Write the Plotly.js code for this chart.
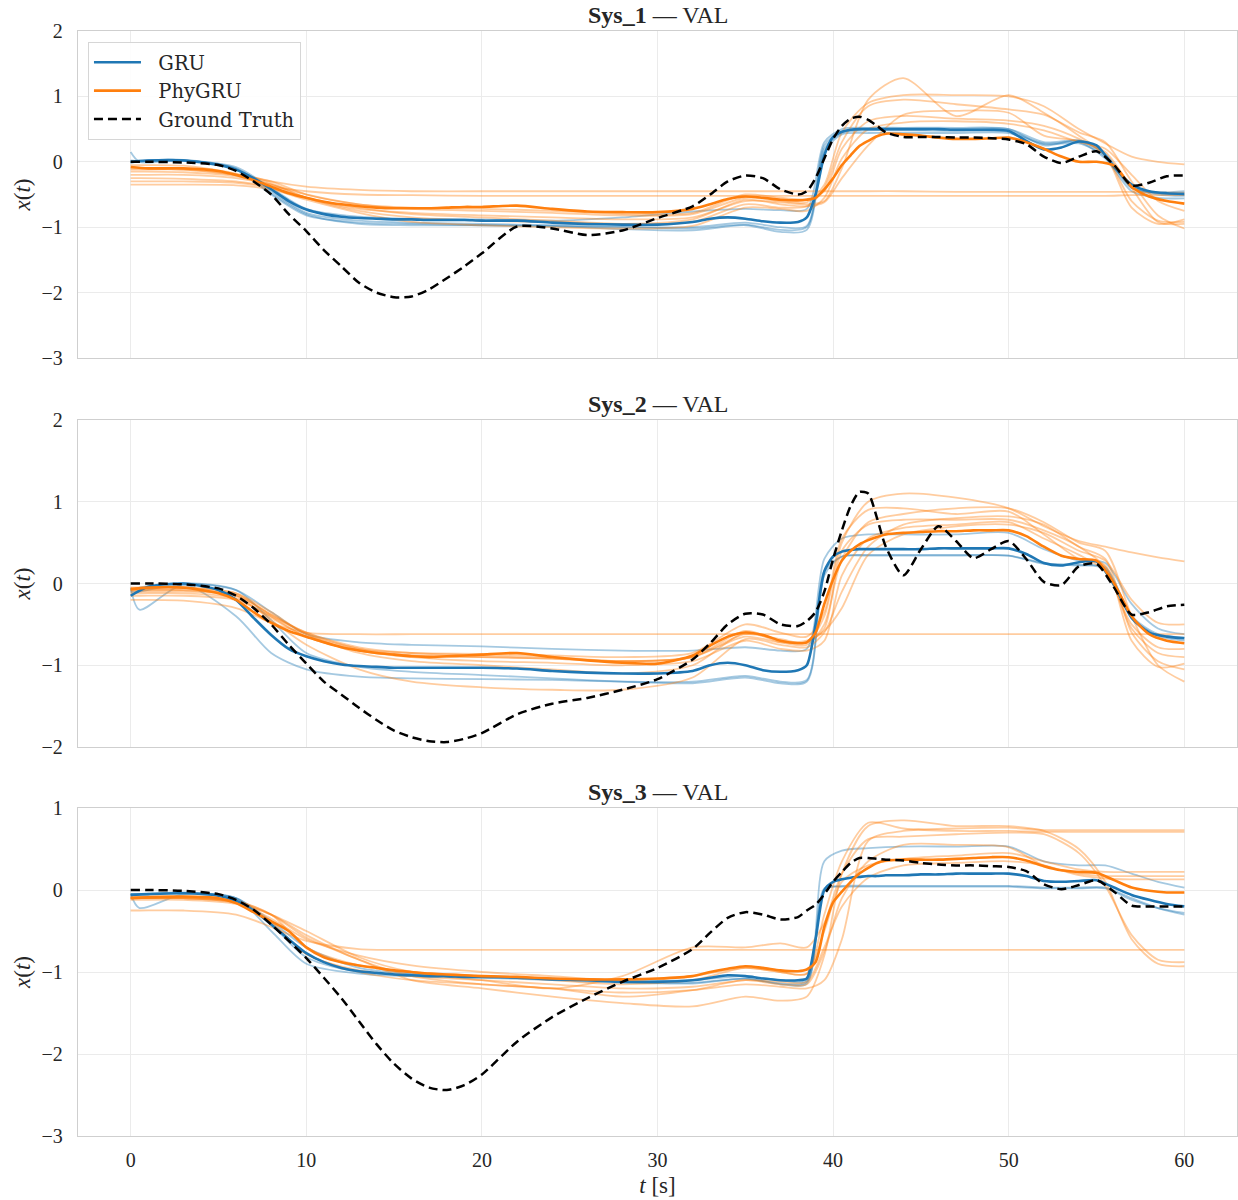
<!DOCTYPE html>
<html>
<head>
<meta charset="utf-8">
<script src="https://cdn.plot.ly/plotly-3.0.1.min.js"></script>
<style>html,body{margin:0;padding:0;background:#fff;}#chart{width:1238px;height:1200px;}</style>
</head>
<body>
<div id="chart"></div>
<script>
// ---------- time grids ----------
const T_FINE = [0,1,3,5,6,7,8,9,10,11,12,13,14,15,16,17,18,19,20,22,24,26,28,30,32,33,34,35,36,37,38,38.5,39,39.5,40,40.5,41,41.5,42,42.5,43,44,45,46,47,48,49,50,51,52,53,54,55,56,57,58,59,60];
const T_RUN = [0,0.5,3,6,8,10,13,16,20,24,28,32,35,37,38.5,39.5,40.5,42,44,47,50,52,54,55.5,57,58.5,60];

// ---------- Sys_1 ----------
const sys1_gt = [0,0,-0.01,-0.05,-0.14,-0.3,-0.5,-0.8,-1.06,-1.35,-1.6,-1.85,-2.0,-2.07,-2.06,-1.95,-1.78,-1.6,-1.4,
  -0.99,-1.02,-1.12,-1.05,-0.86,-0.68,
  -0.5,-0.3,-0.21,-0.25,-0.42,-0.5,
  -0.45,-0.25,0.05,0.35,0.55,0.66,0.69,0.64,0.55,0.45,
  0.38,0.38,0.38,0.37,0.37,0.36,0.34,0.27,0.08,-0.02,0.08,0.16,-0.05,-0.36,-0.32,-0.22,-0.21];
const sys1_gru_mean = [0.0,0.02,0.02,-0.05,-0.12,-0.25,-0.42,-0.6,-0.73,-0.8,-0.84,-0.86,-0.87,-0.88,-0.88,-0.89,-0.89,-0.89,-0.9,
  -0.9,-0.93,-0.95,-0.96,-0.96,-0.92,
  -0.87,-0.85,-0.87,-0.91,-0.93,-0.92,
  -0.85,-0.5,0.1,0.38,0.46,0.49,0.5,0.5,0.5,0.5,
  0.5,0.5,0.5,0.49,0.49,0.49,0.47,0.32,0.19,0.22,0.31,0.25,-0.08,-0.35,-0.45,-0.48,-0.49];
const sys1_phy_mean = [-0.08,-0.1,-0.1,-0.14,-0.2,-0.28,-0.38,-0.48,-0.55,-0.61,-0.65,-0.68,-0.7,-0.71,-0.71,-0.71,-0.7,-0.69,-0.69,
  -0.67,-0.72,-0.76,-0.77,-0.77,-0.72,
  -0.65,-0.57,-0.53,-0.55,-0.58,-0.59,
  -0.58,-0.55,-0.42,-0.25,-0.05,0.1,0.24,0.32,0.39,0.43,
  0.42,0.4,0.37,0.35,0.35,0.36,0.37,0.3,0.2,0.08,0.0,0.0,-0.06,-0.38,-0.53,-0.6,-0.64];
const sys1_gru_r1 = [0.15,0.0,0.03,-0.1,-0.45,-0.78,-0.9,-0.93,-0.95,-0.97,-0.99,-1.0,-0.93,-1.0,-0.98, 0.25,0.46,0.5,0.5,0.5,0.5,0.3,0.32,0.1,-0.4,-0.5,-0.52];
const sys1_gru_r2 = [-0.02,0.01,0.03,-0.12,-0.5,-0.82,-0.93,-0.95,-0.97,-0.99,-1.0,-1.02,-0.96,-1.04,-1.0, 0.2,0.44,0.48,0.48,0.47,0.46,0.28,0.3,0.05,-0.45,-0.55,-0.56];
const sys1_gru_r3 = [0.0,0.02,0.02,-0.08,-0.4,-0.72,-0.84,-0.87,-0.88,-0.9,-0.85,-0.76,-0.72,-0.74,-0.72, 0.3,0.5,0.52,0.52,0.52,0.5,0.25,0.33,0.12,-0.38,-0.48,-0.5];
const sys1_gru_r4 = [0.02,0.01,0.02,-0.11,-0.48,-0.8,-0.95,-0.97,-0.97,-0.98,-1.03,-1.05,-0.97,-1.07,-1.04, 0.15,0.42,0.44,0.44,0.44,0.44,0.27,0.28,0.08,-0.4,-0.47,-0.45];
const sys1_phy_r1 = [-0.05,-0.05,-0.06,-0.18,-0.3,-0.38,-0.43,-0.45,-0.45,-0.45,-0.45,-0.45,-0.45,-0.45,-0.45, -0.45,-0.45,-0.45,-0.45,-0.46,-0.46,-0.46,-0.46,-0.46,-0.46,-0.47,-0.47];
const sys1_phy_r2 = [-0.25,-0.25,-0.26,-0.3,-0.38,-0.45,-0.5,-0.51,-0.52,-0.52,-0.52,-0.52,-0.52,-0.52,-0.52, -0.52,-0.52,-0.52,-0.52,-0.52,-0.52,-0.52,-0.52,-0.52,-0.51,-0.51,-0.51];
const sys1_phy_r3 = [-0.15,-0.15,-0.16,-0.22,-0.35,-0.55,-0.72,-0.78,-0.82,-0.85,-0.88,-0.85,-0.6,-0.62,-0.65, -0.6,-0.1,0.95,1.28,0.7,1.02,0.75,0.4,0.1,-0.7,-0.95,-0.88];
const sys1_phy_r4 = [-0.1,-0.1,-0.12,-0.2,-0.3,-0.5,-0.65,-0.72,-0.75,-0.78,-0.82,-0.8,-0.55,-0.6,-0.62, -0.35,0.45,0.9,1.02,1.02,1.0,0.85,0.5,0.28,0.08,0.0,-0.04];
const sys1_phy_r5 = [-0.3,-0.3,-0.3,-0.32,-0.4,-0.55,-0.7,-0.8,-0.85,-0.9,-0.95,-0.92,-0.65,-0.7,-0.68, -0.4,0.3,0.85,0.95,0.88,0.8,0.72,0.45,0.3,-0.3,-0.82,-1.02];
const sys1_phy_r6 = [-0.2,-0.2,-0.2,-0.25,-0.35,-0.5,-0.65,-0.7,-0.72,-0.75,-0.8,-0.78,-0.5,-0.55,-0.57, -0.45,0.2,0.62,0.7,0.66,0.63,0.55,0.35,0.1,-0.6,-0.9,-0.92];
const sys1_phy_r7 = [-0.12,-0.12,-0.12,-0.2,-0.33,-0.55,-0.75,-0.85,-0.9,-0.92,-0.95,-0.88,-0.58,-0.65,-0.68, -0.62,-0.25,0.25,0.72,0.78,0.75,0.4,0.32,0.15,-0.4,-0.92,-0.95];
const sys1_phy_r8 = [-0.35,-0.35,-0.35,-0.36,-0.42,-0.58,-0.78,-0.92,-0.97,-1.0,-1.02,-0.98,-0.7,-0.72,-0.75, -0.55,0.05,0.5,0.6,0.62,0.58,0.48,0.3,0.2,-0.2,-0.6,-0.75];

// ---------- Sys_2 ----------
const sys2_gt = [0,0,-0.01,-0.06,-0.15,-0.3,-0.5,-0.75,-0.98,-1.2,-1.36,-1.52,-1.67,-1.8,-1.88,-1.93,-1.94,-1.9,-1.83,
  -1.6,-1.47,-1.4,-1.3,-1.17,-0.93,
  -0.73,-0.5,-0.37,-0.38,-0.5,-0.52,
  -0.46,-0.35,-0.1,0.3,0.65,0.95,1.12,1.1,0.8,0.45,
  0.1,0.42,0.7,0.52,0.31,0.42,0.52,0.3,0.02,-0.02,0.21,0.24,-0.05,-0.38,-0.35,-0.28,-0.26];
const sys2_gru_mean = [-0.15,-0.04,0.0,-0.08,-0.2,-0.42,-0.63,-0.8,-0.89,-0.95,-0.99,-1.01,-1.02,-1.03,-1.03,-1.03,-1.03,-1.03,-1.03,
  -1.04,-1.07,-1.09,-1.1,-1.1,-1.07,
  -1.0,-0.97,-1.0,-1.06,-1.08,-1.06,
  -1.0,-0.5,0.15,0.33,0.39,0.41,0.42,0.42,0.42,0.42,
  0.42,0.42,0.43,0.43,0.43,0.43,0.43,0.36,0.25,0.22,0.26,0.27,-0.02,-0.42,-0.6,-0.65,-0.67];
const sys2_phy_mean = [-0.07,-0.05,-0.05,-0.12,-0.2,-0.35,-0.48,-0.58,-0.65,-0.72,-0.78,-0.82,-0.85,-0.87,-0.89,-0.9,-0.89,-0.88,-0.87,
  -0.85,-0.9,-0.94,-0.97,-0.98,-0.88,
  -0.76,-0.65,-0.6,-0.63,-0.7,-0.73,
  -0.72,-0.6,-0.25,0.05,0.28,0.4,0.48,0.53,0.57,0.6,
  0.62,0.63,0.64,0.64,0.65,0.65,0.65,0.58,0.45,0.34,0.3,0.28,0.0,-0.4,-0.62,-0.7,-0.73];
const sys2_gru_r1 = [-0.05,-0.32,-0.02,-0.4,-0.85,-1.05,-1.14,-1.16,-1.17,-1.18,-1.2,-1.2,-1.13,-1.2,-1.18, 0.15,0.33,0.34,0.34,0.34,0.34,0.25,0.22,0.2,-0.4,-0.62,-0.66];
const sys2_gru_r2 = [-0.1,-0.1,0.0,-0.08,-0.45,-0.85,-1.02,-1.08,-1.12,-1.16,-1.2,-1.22,-1.15,-1.22,-1.2, 0.1,0.33,0.35,0.35,0.35,0.34,0.24,0.23,0.18,-0.42,-0.64,-0.7];
const sys2_gru_r3 = [-0.08,-0.05,0.0,-0.08,-0.35,-0.62,-0.72,-0.75,-0.77,-0.8,-0.82,-0.82,-0.78,-0.82,-0.8, 0.3,0.55,0.6,0.6,0.6,0.62,0.42,0.28,0.25,-0.25,-0.55,-0.62];
const sys2_phy_r1 = [-0.2,-0.2,-0.21,-0.3,-0.48,-0.6,-0.62,-0.62,-0.62,-0.62,-0.62,-0.62,-0.62,-0.62,-0.62, -0.62,-0.62,-0.62,-0.62,-0.62,-0.62,-0.62,-0.62,-0.62,-0.62,-0.62,-0.62];
const sys2_phy_r2 = [-0.05,-0.05,-0.05,-0.12,-0.4,-0.65,-0.82,-0.88,-0.9,-0.92,-0.95,-0.9,-0.62,-0.68,-0.72, -0.4,0.5,1.0,1.1,1.05,0.92,0.7,0.52,0.45,0.38,0.32,0.27];
const sys2_phy_r3 = [-0.1,-0.1,-0.1,-0.15,-0.38,-0.62,-0.85,-0.95,-1.0,-1.05,-1.1,-1.0,-0.6,-0.72,-0.75, -0.5,0.3,0.75,0.85,0.92,0.92,0.75,0.5,0.4,-0.4,-1.0,-1.2];
const sys2_phy_r4 = [-0.08,-0.08,-0.08,-0.15,-0.45,-0.75,-1.05,-1.2,-1.27,-1.3,-1.3,-1.15,-0.68,-0.75,-0.78, -0.6,-0.1,0.45,0.72,0.8,0.82,0.72,0.45,0.3,-0.6,-0.95,-1.05];
const sys2_phy_r5 = [-0.05,-0.05,-0.05,-0.12,-0.35,-0.62,-0.8,-0.88,-0.9,-0.92,-0.95,-0.9,-0.58,-0.7,-0.72, -0.55,0.4,0.72,0.78,0.78,0.78,0.65,0.45,0.2,-0.55,-0.85,-0.9];
const sys2_phy_r6 = [-0.12,-0.12,-0.12,-0.18,-0.42,-0.65,-0.82,-0.9,-0.95,-0.97,-1.0,-0.95,-0.7,-0.8,-0.82, -0.7,0.1,0.55,0.68,0.72,0.75,0.55,0.35,0.15,-0.5,-0.78,-0.8];
const sys2_phy_r7 = [-0.08,-0.08,-0.08,-0.14,-0.38,-0.6,-0.8,-0.85,-0.86,-0.88,-0.9,-0.85,-0.5,-0.6,-0.65, -0.35,0.55,0.9,0.92,0.85,0.88,0.6,0.3,0.22,-0.7,-1.02,-0.98];
const sys2_phy_r8 = [-0.15,-0.15,-0.15,-0.2,-0.4,-0.6,-0.78,-0.85,-0.88,-0.9,-0.95,-0.9,-0.65,-0.72,-0.7, -0.58,-0.3,0.35,0.6,0.7,0.72,0.62,0.4,0.28,-0.2,-0.48,-0.5];

// ---------- Sys_3 ----------
const sys3_gt = [0,0,-0.01,-0.05,-0.12,-0.24,-0.42,-0.62,-0.83,-1.07,-1.32,-1.6,-1.88,-2.12,-2.3,-2.41,-2.44,-2.38,-2.25,
  -1.85,-1.55,-1.32,-1.12,-0.95,-0.72,
  -0.52,-0.34,-0.27,-0.3,-0.36,-0.33,
  -0.25,-0.18,-0.05,0.1,0.22,0.33,0.39,0.39,0.38,0.37,
  0.36,0.33,0.31,0.3,0.3,0.29,0.28,0.23,0.07,0.01,0.06,0.12,-0.02,-0.19,-0.2,-0.2,-0.2];
const sys3_gru_mean = [-0.06,-0.05,-0.04,-0.07,-0.13,-0.25,-0.42,-0.6,-0.77,-0.88,-0.95,-0.99,-1.01,-1.03,-1.04,-1.05,-1.05,-1.06,-1.06,
  -1.07,-1.09,-1.1,-1.12,-1.12,-1.1,
  -1.07,-1.04,-1.05,-1.08,-1.1,-1.1,
  -1.08,-0.6,0.0,0.1,0.13,0.15,0.16,0.17,0.17,0.18,
  0.18,0.19,0.19,0.2,0.2,0.2,0.2,0.17,0.11,0.1,0.11,0.12,0.03,-0.06,-0.12,-0.17,-0.2];
const sys3_phy_mean = [-0.1,-0.09,-0.08,-0.1,-0.16,-0.27,-0.38,-0.5,-0.7,-0.82,-0.88,-0.92,-0.95,-0.98,-1.0,-1.02,-1.03,-1.04,-1.05,
  -1.06,-1.08,-1.09,-1.09,-1.08,-1.05,
  -1.0,-0.96,-0.93,-0.95,-0.98,-0.99,
  -0.97,-0.88,-0.45,-0.15,-0.02,0.1,0.2,0.27,0.33,0.36,
  0.37,0.37,0.37,0.38,0.39,0.4,0.4,0.36,0.29,0.24,0.22,0.21,0.12,0.03,-0.01,-0.03,-0.03];
const sys3_gru_r1 = [-0.05,-0.05,-0.03,-0.1,-0.38,-0.7,-0.95,-1.02,-1.05,-1.08,-1.1,-1.1,-1.05,-1.1,-1.1, 0.35,0.48,0.51,0.53,0.53,0.53,0.35,0.3,0.3,0.2,0.1,0.03];
const sys3_gru_r2 = [-0.05,-0.22,-0.05,-0.1,-0.42,-0.82,-1.0,-1.03,-1.05,-1.08,-1.12,-1.13,-1.08,-1.14,-1.12, 0.02,0.04,0.04,0.04,0.04,0.04,0.02,0.02,0.02,-0.12,-0.22,-0.28];
const sys3_gru_r3 = [-0.05,-0.05,-0.04,-0.1,-0.5,-0.9,-1.02,-1.05,-1.07,-1.1,-1.13,-1.14,-1.08,-1.15,-1.14, 0.0,0.05,0.05,0.05,0.05,0.05,0.03,0.03,0.03,-0.1,-0.22,-0.3];
const sys3_phy_r1 = [-0.08,-0.08,-0.08,-0.14,-0.3,-0.7,-0.92,-1.0,-1.05,-1.1,-1.15,-1.1,-0.95,-1.0,-1.02, -0.3,0.35,0.82,0.75,0.72,0.72,0.71,0.71,0.71,0.71,0.71,0.71];
const sys3_phy_r2 = [-0.1,-0.1,-0.1,-0.16,-0.4,-0.78,-1.0,-1.1,-1.15,-1.2,-1.25,-1.22,-1.15,-1.18,-1.2, -1.1,-0.6,0.6,0.72,0.75,0.76,0.73,0.73,0.73,0.73,0.73,0.73];
const sys3_phy_r3 = [-0.25,-0.25,-0.25,-0.3,-0.45,-0.62,-0.72,-0.73,-0.73,-0.73,-0.73,-0.73,-0.73,-0.73,-0.73, -0.73,-0.73,-0.73,-0.73,-0.73,-0.73,-0.73,-0.73,-0.73,-0.73,-0.73,-0.73];
const sys3_phy_r4 = [-0.1,-0.1,-0.1,-0.15,-0.35,-0.6,-0.8,-0.92,-1.0,-1.05,-1.1,-1.05,-0.95,-1.0,-1.02, -0.5,0.1,0.3,0.38,0.42,0.45,0.35,0.25,0.22,0.22,0.22,0.22];
const sys3_phy_r5 = [-0.12,-0.12,-0.12,-0.17,-0.3,-0.55,-0.85,-1.05,-1.15,-1.2,-1.3,-1.22,-1.1,-1.15,-1.15, -0.75,-0.1,0.35,0.55,0.55,0.52,0.3,0.2,0.17,0.17,0.17,0.17];
const sys3_phy_r6 = [-0.08,-0.08,-0.08,-0.13,-0.3,-0.58,-0.85,-1.1,-1.2,-1.3,-1.38,-1.42,-1.3,-1.35,-1.3, -0.8,0.2,0.78,0.85,0.78,0.78,0.72,0.5,0.1,-0.6,-0.9,-0.93];
const sys3_phy_r7 = [-0.1,-0.1,-0.1,-0.15,-0.3,-0.5,-0.82,-1.0,-1.1,-1.2,-1.05,-0.7,-0.7,-0.65,-0.7, -0.4,0.2,0.62,0.65,0.68,0.7,0.68,0.45,0.05,-0.55,-0.85,-0.88];
const sys3_phy_r8 = [-0.1,-0.1,-0.1,-0.15,-0.4,-0.78,-0.98,-1.05,-1.1,-1.15,-1.2,-1.18,-1.1,-1.12,-1.12, -0.7,-0.2,0.15,0.3,0.33,0.35,0.3,0.18,0.14,0.13,0.13,0.13];

const SYSTEM_NAMES = ['Sys_1','Sys_2','Sys_3'];
const SERIES_NAMES = ['GRU','PhyGRU','Ground Truth'];
const Y_RANGES = [[-3,2],[-2,2],[-3,1]];
const X_TICKS = [0,10,20,30,40,50,60];

// ---------- build ----------
const BLUE = '#1f77b4', ORANGE = '#ff7f0e';
const PAD = '\u00a0\u00a0';
const systems = [
  {gt: sys1_gt, gm: sys1_gru_mean, pm: sys1_phy_mean,
   gr: [sys1_gru_r1, sys1_gru_r2, sys1_gru_r3, sys1_gru_r4],
   pr: [sys1_phy_r1, sys1_phy_r2, sys1_phy_r3, sys1_phy_r4, sys1_phy_r5, sys1_phy_r6, sys1_phy_r7, sys1_phy_r8]},
  {gt: sys2_gt, gm: sys2_gru_mean, pm: sys2_phy_mean,
   gr: [sys2_gru_r1, sys2_gru_r2, sys2_gru_r3],
   pr: [sys2_phy_r1, sys2_phy_r2, sys2_phy_r3, sys2_phy_r4, sys2_phy_r5, sys2_phy_r6, sys2_phy_r7, sys2_phy_r8]},
  {gt: sys3_gt, gm: sys3_gru_mean, pm: sys3_phy_mean,
   gr: [sys3_gru_r1, sys3_gru_r2, sys3_gru_r3],
   pr: [sys3_phy_r1, sys3_phy_r2, sys3_phy_r3, sys3_phy_r4, sys3_phy_r5, sys3_phy_r6, sys3_phy_r7, sys3_phy_r8]}
];

const traces = [];
systems.forEach((s, i) => {
  const xa = i === 0 ? 'x' : 'x' + (i + 1);
  const ya = i === 0 ? 'y' : 'y' + (i + 1);
  const base = {xaxis: xa, yaxis: ya, mode: 'lines', hoverinfo: 'skip'};
  s.gr.forEach(r => traces.push(Object.assign({}, base, {x: T_RUN, y: r, showlegend: false, opacity: 0.4,
    line: {color: BLUE, width: 1.8, shape: 'spline', smoothing: 0.8}})));
  s.pr.forEach(r => traces.push(Object.assign({}, base, {x: T_RUN, y: r, showlegend: false, opacity: 0.4,
    line: {color: ORANGE, width: 1.8, shape: 'spline', smoothing: 0.8}})));
  traces.push(Object.assign({}, base, {x: T_FINE, y: s.gm, name: PAD + SERIES_NAMES[0], showlegend: i === 0, legendrank: 1,
    line: {color: BLUE, width: 2.6, shape: 'spline', smoothing: 0.7}}));
  traces.push(Object.assign({}, base, {x: T_FINE, y: s.pm, name: PAD + SERIES_NAMES[1], showlegend: i === 0, legendrank: 2,
    line: {color: ORANGE, width: 2.6, shape: 'spline', smoothing: 0.7}}));
  traces.push(Object.assign({}, base, {x: T_FINE, y: s.gt, name: PAD + SERIES_NAMES[2], showlegend: i === 0, legendrank: 3,
    line: {color: '#000000', width: 2.5, dash: '9px,5px', shape: 'spline', smoothing: 0.7}}));
});

const FONT = "'Liberation Serif', 'DejaVu Serif', serif";
const LEGEND_FONT = "'DejaVu Serif', 'Liberation Serif', serif";
const TXT = '#262626';
const H = 1105; // plotting height between top/bottom margins
const panelPx = [[31, 358], [420, 747], [808, 1136]];
const domains = panelPx.map(p => [(1136 - p[1]) / H, (1136 - p[0]) / H]);

const layout = {
  width: 1238, height: 1200,
  margin: {l: 78, r: 1, t: 31, b: 64},
  paper_bgcolor: '#ffffff', plot_bgcolor: '#ffffff',
  font: {family: FONT, size: 20, color: TXT},
  showlegend: true,
  legend: {x: 0.0086, y: 0.99, xanchor: 'left', yanchor: 'top', bgcolor: 'rgba(255,255,255,0.9)',
    bordercolor: '#d6d6d6', borderwidth: 1, font: {family: LEGEND_FONT, size: 19.5, color: TXT},
    tracegroupgap: 0, itemwidth: 47},
  annotations: []
};

domains.forEach((d, i) => {
  const sfx = i === 0 ? '' : String(i + 1);
  layout['xaxis' + sfx] = {
    domain: [0, 1], anchor: 'y' + sfx, range: [-3, 63],
    tickvals: X_TICKS, ticktext: X_TICKS.map(String), showticklabels: i === 2,
    showgrid: true, gridcolor: '#ebebeb', gridwidth: 1, zeroline: false,
    showline: true, mirror: true, linecolor: '#cfcfcf', linewidth: 1.2,
    ticks: '', ticklabelstandoff: 6, tickfont: {family: FONT, size: 20, color: TXT},
    title: i === 2 ? {text: '<i>t</i> [s]', font: {family: FONT, size: 23, color: TXT}, standoff: 6} : {text: ''}
  };
  layout['yaxis' + sfx] = {
    domain: d, anchor: 'x' + sfx, range: Y_RANGES[i], dtick: 1, tick0: 0,
    showgrid: true, gridcolor: '#ebebeb', gridwidth: 1, zeroline: false,
    showline: true, mirror: true, linecolor: '#cfcfcf', linewidth: 1.2,
    ticks: '', ticklabelstandoff: 10, tickfont: {family: FONT, size: 20, color: TXT},
    title: {text: '<i>x</i>(<i>t</i>)', font: {family: FONT, size: 23, color: TXT}, standoff: 4}
  };
  layout.annotations.push({
    xref: 'paper', yref: 'paper', x: 0.5, y: d[1], xanchor: 'center', yanchor: 'bottom', yshift: 1,
    showarrow: false, text: '<b>' + SYSTEM_NAMES[i] + '</b> — VAL',
    font: {family: FONT, size: 24, color: TXT}
  });
});

Plotly.newPlot('chart', traces, layout, {staticPlot: true, displayModeBar: false});
</script>
</body>
</html>
